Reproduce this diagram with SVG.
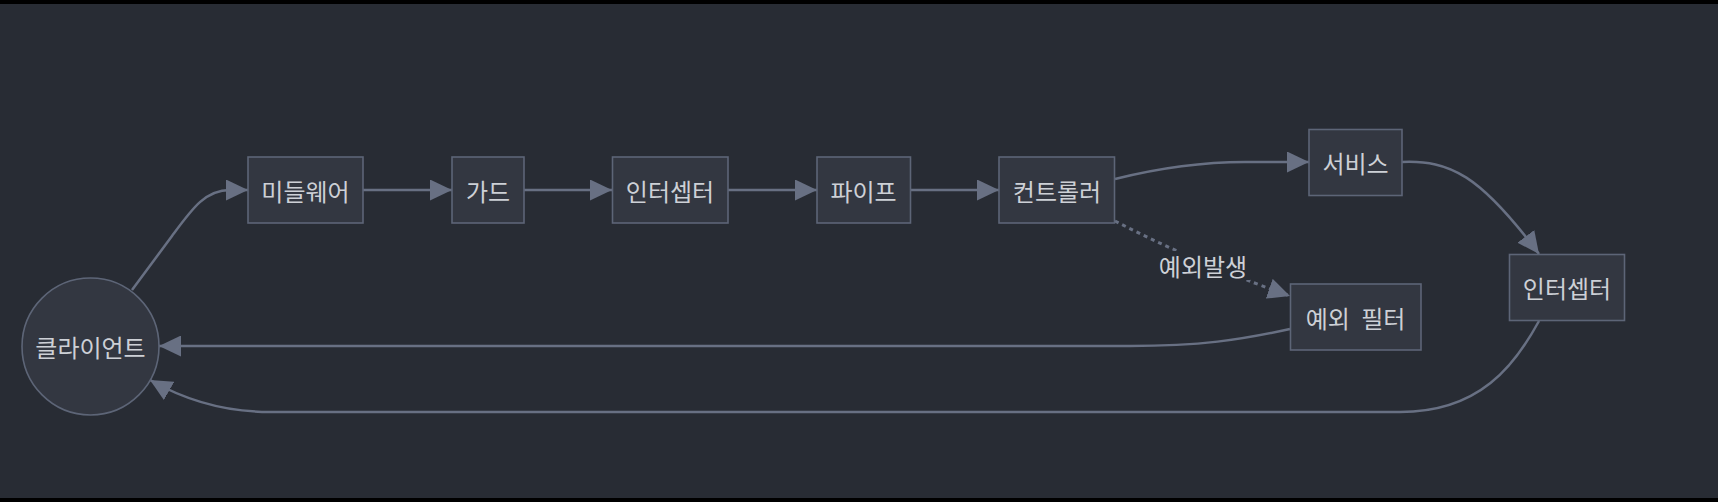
<svg xmlns="http://www.w3.org/2000/svg" width="1718" height="502" viewBox="0 0 1718 502">
<style>
.node rect, .node circle { fill: #333741; stroke: #5d6577; stroke-width: 1.6; }
.node text, .lbl text { font-family: "Noto Sans CJK KR", "Noto Sans", sans-serif; font-size: 24px; fill: #cdd0d6; text-anchor: middle; dominant-baseline: central; }
.edge { fill: none; stroke: #687083; stroke-width: 2.5; }
.dotted { stroke-dasharray: 4 4; stroke-width: 3; }
</style>
<defs>
<marker id="arrow" viewBox="0 0 22 21" refX="22" refY="10.5" markerWidth="22" markerHeight="21" markerUnits="userSpaceOnUse" orient="auto">
<path d="M0,0 L22,10.5 L0,21 z" fill="#687083"/>
</marker>
</defs>
<rect x="0" y="0" width="1718" height="502" fill="#282c34"/>
<rect x="0" y="0" width="1718" height="4" fill="#000"/>
<rect x="0" y="498" width="1718" height="4" fill="#000"/>
<g id="connectors">
<path class="edge" d="M132,290 L172,236 C192,209 205,190 230,190 L248,190" marker-end="url(#arrow)"/>
<path class="edge" d="M363,190 L452,190" marker-end="url(#arrow)"/>
<path class="edge" d="M524,190 L612,190" marker-end="url(#arrow)"/>
<path class="edge" d="M728,190 L817,190" marker-end="url(#arrow)"/>
<path class="edge" d="M910,190 L999,190" marker-end="url(#arrow)"/>
<path class="edge" d="M1115,179 C1155,169 1195,162 1245,162 L1309,162" marker-end="url(#arrow)"/>
<path class="edge dotted" d="M1115,221 C1180,255 1250,282 1290,296" marker-end="url(#arrow)"/>
<path class="edge" d="M1402,162 C1450,160 1480,175 1539,254" marker-end="url(#arrow)"/>
<path class="edge" d="M1290,329 C1240,340 1200,346 1130,346 L159,346" marker-end="url(#arrow)"/>
<path class="edge" d="M1539,321 C1515,365 1480,412 1400,412 L270,412 C225,412 185,400 150,380" marker-end="url(#arrow)"/>
<g class="lbl" id="label-exception">
<rect x="1156" y="251" width="94" height="29" fill="#282c34"/>
<text x="1203" y="265">예외발생</text>
</g>
</g>
<g class="node" id="client"><circle cx="90.5" cy="346.5" r="68.5"/><text x="90.5" y="346">클라이언트</text></g>
<g class="node" id="middleware"><rect x="248" y="157" width="115" height="66"/><text x="305.5" y="190">미들웨어</text></g>
<g class="node" id="guard"><rect x="452" y="157" width="72" height="66"/><text x="488" y="190">가드</text></g>
<g class="node" id="interceptor1"><rect x="612.5" y="157" width="115.5" height="66"/><text x="670" y="190">인터셉터</text></g>
<g class="node" id="pipe"><rect x="817" y="157" width="93.5" height="66"/><text x="863.5" y="190">파이프</text></g>
<g class="node" id="controller"><rect x="999" y="157" width="115.5" height="66"/><text x="1057" y="190">컨트롤러</text></g>
<g class="node" id="service"><rect x="1309" y="129.5" width="93" height="66"/><text x="1355.5" y="162">서비스</text></g>
<g class="node" id="exception-filter"><rect x="1290.5" y="284" width="130.5" height="66"/><text x="1355.5" y="317" style="word-spacing:6px">예외 필터</text></g>
<g class="node" id="interceptor2"><rect x="1509.5" y="254.5" width="115" height="66"/><text x="1567" y="287">인터셉터</text></g>
</svg>
